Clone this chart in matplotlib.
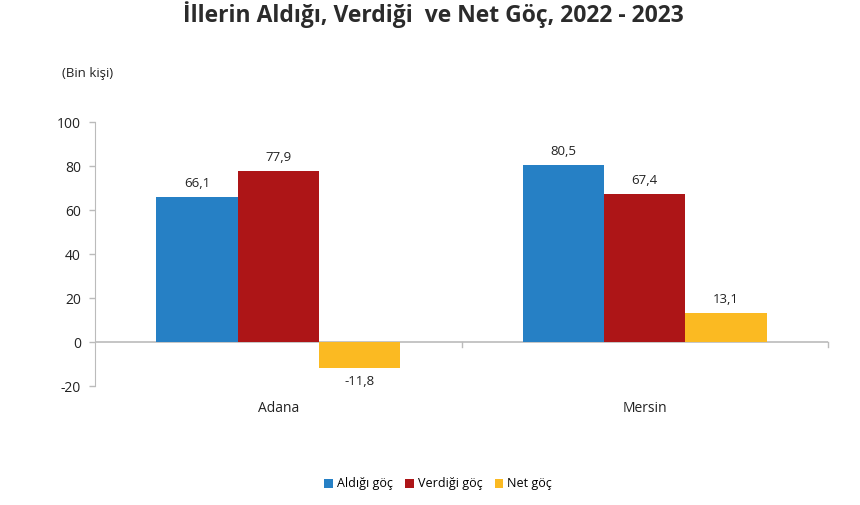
import matplotlib.pyplot as plt
import numpy as np

categories = ["Adana", "Mersin"]
series_names = ["Aldığı göç", "Verdiği göç", "Net göç"]
aldigi = [66.1, 80.5]
verdigi = [77.9, 67.4]
net = [-11.8, 13.1]
colors = ["#2680C5", "#AD1517", "#FBBA22"]
yticks = [-20, 0, 20, 40, 60, 80, 100]

plt.rcParams['font.family'] = ['Open Sans', 'DejaVu Sans']

fig = plt.figure(figsize=(8.6, 5.05), dpi=100)
ax = fig.add_axes([95/860, 1-386/505, (828-95)/860, (386-122)/505])

x = np.arange(len(categories))
w = 0.222
series = [aldigi, verdigi, net]
bars_all = []
for i, (vals, name, c) in enumerate(zip(series, series_names, colors)):
    bars = ax.bar(x + (i-1)*w, vals, w, color=c, label=name, zorder=3)
    bars_all.append(bars)
    for b, v in zip(bars, vals):
        lab = f"{v:.1f}".replace(".", ",")
        if v >= 0:
            ax.annotate(lab, (b.get_x()+b.get_width()/2, v), xytext=(0, 5),
                        textcoords="offset points", ha="center", va="bottom", fontsize=9.5, color="#222222")
        else:
            ax.annotate(lab, (b.get_x()+b.get_width()/2, v), xytext=(0, -5),
                        textcoords="offset points", ha="center", va="top", fontsize=9.5, color="#222222")

ax.set_xlim(-0.5, 1.5)
ax.set_ylim(-20, 100)
ax.set_yticks(yticks)
ax.set_yticklabels([str(t) for t in yticks], fontsize=10, color="#222222")
ax.tick_params(axis='y', length=4, color="#BBBBBB", width=1, pad=6)

for s in ["top", "right", "bottom"]:
    ax.spines[s].set_visible(False)
ax.spines["left"].set_color("#BBBBBB")
ax.axhline(0, color="#BBBBBB", lw=1.2, zorder=2)
# category boundary ticks on the zero line
for b in [0.5, 1.5]:
    ax.plot([b, b], [0, -2.2], color="#BBBBBB", lw=1, clip_on=False, zorder=2)

ax.set_xticks([])
for xi, cat in zip(x, categories):
    ax.text(xi, -30, cat, ha="center", va="center", fontsize=10, color="#222222")

fig.text(88/860, 1-73/505, "(Bin kişi)", ha="center", va="center", fontsize=9.5, color="#222222")
fig.text(433/860, 1-15/505, "İllerin Aldığı, Verdiği  ve Net Göç, 2022 - 2023",
         ha="center", va="center", fontsize=16.5, fontweight="bold", color="#2B2B2B")

leg = fig.legend(handles=bars_all, labels=series_names, loc="center", bbox_to_anchor=(438/860, 1-484/505),
                 ncol=3, frameon=False, fontsize=9, handlelength=0.7, handleheight=0.7,
                 handletextpad=0.3, columnspacing=1.0)

fig.savefig("out.png", dpi=100, facecolor="white")
